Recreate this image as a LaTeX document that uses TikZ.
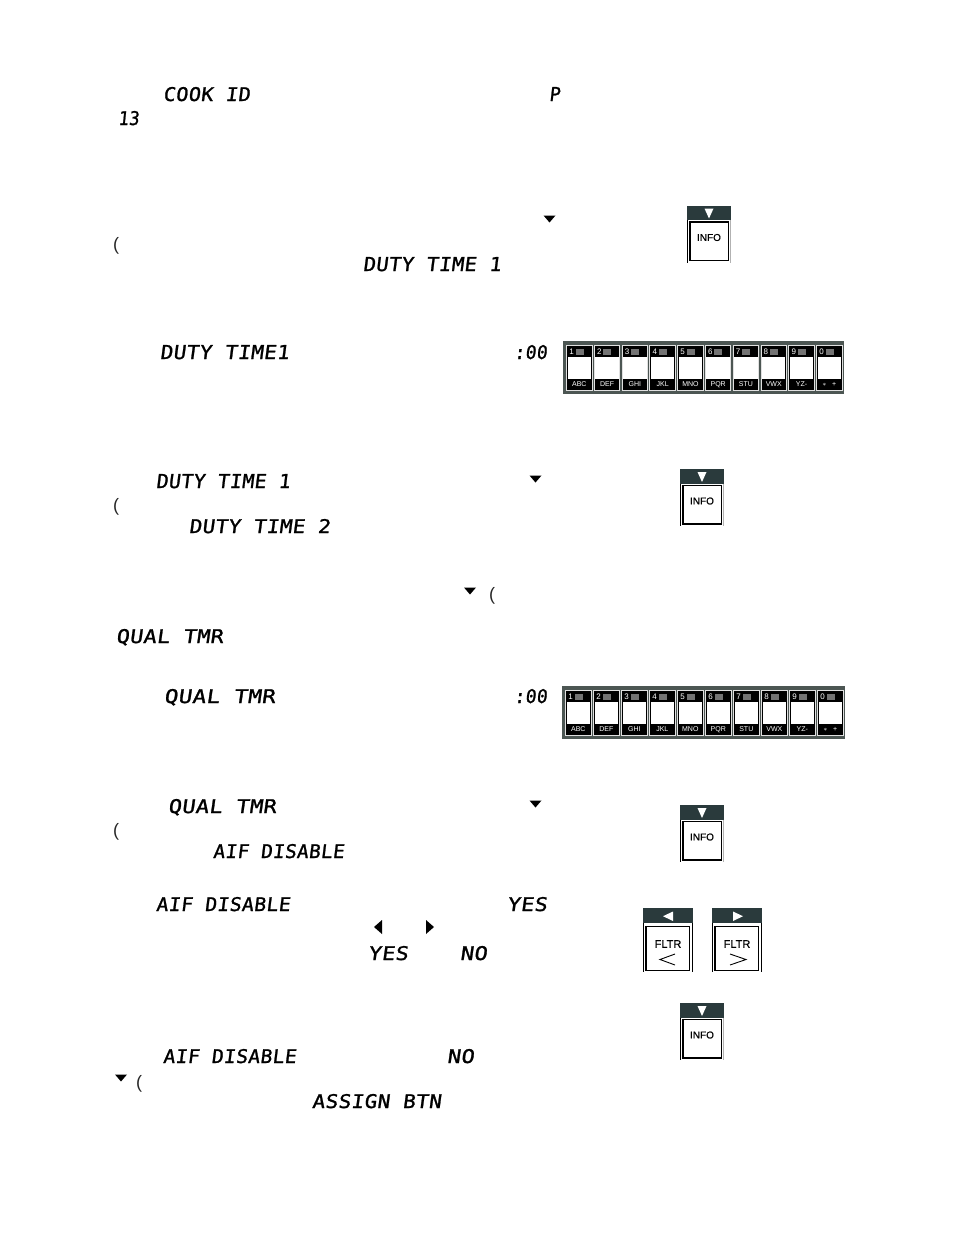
\documentclass[tikz,border=0pt]{standalone}
\usepackage{fontspec}
\usepackage{graphicx}
\setmainfont{Liberation Sans}
\newfontfamily\lcdfont[FakeSlant=0.12,FakeBold=1.2,LetterSpace=2]{DejaVu Sans Mono}
\newfontfamily\btnfont[FakeBold=0.5]{Liberation Sans}
\definecolor{btndark}{HTML}{2A3A3C}
\definecolor{padgray}{HTML}{4C5653}
\tikzset{
  lcdtext/.style={anchor=base west,inner sep=0pt,outer sep=0pt},
  paren/.style={anchor=center,inner sep=0pt,font=\fontsize{18}{18}\selectfont,text=black!85},
  tri/.style={fill=black,draw=none},
  btntop/.style={fill=btndark,draw=none},
  btnmark/.style={fill=white,draw=none},
  keylabel/.style={text=white,inner sep=0pt,font=\fontsize{7}{7}\selectfont},
  keydigit/.style={text=white,inner sep=0pt,font=\fontsize{8}{8}\selectfont}
}
% \lcd{name}{left}{right}{centre y}{text}
\newcommand{\lcd}[5]{%
  \pgfmathsetmacro{\lcdw}{#3-(#2)}%
  \pgfmathsetmacro{\lcdy}{#4+7}%
  \node[lcdtext] (#1) at (#2,\lcdy) {\resizebox{\lcdw pt}{14pt}{\lcdfont #5}};}
\newcommand{\tridown}[2]{\fill[tri] (#1-6,#2-3.5) -- (#1+6,#2-3.5) -- (#1,#2+3.5) -- cycle;}
\newcommand{\trileft}[2]{\fill[tri] (#1+4,#2-7) -- (#1+4,#2+7) -- (#1-4,#2) -- cycle;}
\newcommand{\triright}[2]{\fill[tri] (#1-4,#2-7) -- (#1-4,#2+7) -- (#1+4,#2) -- cycle;}
% \infobtn{name}{left}{top}
\newcommand{\infobtn}[3]{%
  \begin{scope}[shift={(#2,#3)}]
    \fill[btntop] (0,0) rectangle (44,14.5);
    \fill[btnmark] (17.5,3) -- (26.5,3) -- (22,13) -- cycle;
    \draw[black,line width=0.8pt] (0.4,14.5) -- (0.4,57);
    \draw[black!30,line width=0.8pt] (43.6,14.5) -- (43.6,57);
    \draw[black,line width=1.3pt] (3,16.5) rectangle (41.5,55);
    \node[inner sep=0pt,font=\btnfont\fontsize{10}{10}\selectfont] (#1) at (22,32) {INFO};
  \end{scope}}
% \fltrbtn{name}{left}{top}{mark direction}
\newcommand{\fltrbtn}[4]{%
  \begin{scope}[shift={(#2,#3)}]
    \fill[btntop] (0,0) rectangle (49.5,15);
    \ifnum#4=0
      \fill[btnmark] (30,3.5) -- (30,13) -- (20,8.2) -- cycle;
    \else
      \fill[btnmark] (21,3.5) -- (21,13) -- (31,8.2) -- cycle;
    \fi
    \draw[black,line width=0.8pt] (0.4,15) -- (0.4,64);
    \draw[black,line width=0.8pt] (49.1,15) -- (49.1,64);
    \draw[black,line width=1.3pt] (3,18.5) rectangle (46.5,62.5);
    \node[inner sep=0pt,font=\btnfont\fontsize{11}{12}\selectfont] (#1) at (25,36) {FLTR};
    \ifnum#4=0
      \draw[black,line width=0.9pt] (32,46) -- (17,51.5) -- (32,57);
    \else
      \draw[black,line width=0.9pt] (18,46) -- (34,51.5) -- (18,57);
    \fi
  \end{scope}}
% \keypad{prefix}{left}{top}{width}
\newcommand{\keypad}[4]{%
  \begin{scope}[shift={(#2,#3)}]
    \fill[padgray] (0,0) rectangle (#4,52.5);
    \pgfmathsetmacro{\pitch}{(#4-31)/9}
    \foreach \d/\lab [count=\k from 0] in {1/ABC,2/DEF,3/GHI,4/JKL,5/MNO,6/PQR,7/STU,8/VWX,9/YZ-,0/{$\ast$\ \ \ +}} {
      \pgfmathsetmacro{\kx}{3.5+\k*\pitch}
      \begin{scope}[shift={(\kx,4)}]
        \fill[black] (0,0) rectangle (25.5,45);
        \draw[black!12,line width=0.9pt] (0,0) rectangle (25.5,45);
        \fill[white] (1,12) rectangle (24.5,33.5);
        \fill[black!55] (9,4) rectangle (17,9.5);
        \node[keydigit] (#1d\k) at (5,6.4) {\d};
        \node[keylabel] (#1l\k) at (12.8,39.5) {\lab};
      \end{scope}
    }
  \end{scope}}
\begin{document}
\begin{tikzpicture}[x=1pt,y=-1pt]
\useasboundingbox (0,0) rectangle (954,1235);
\fill[white] (0,0) rectangle (954,1235);
% text
\lcd{a1}{163}{250}{94}{COOK ID}
\lcd{a2}{549}{560}{94}{P}
\lcd{a3}{118}{139}{118}{13}
\lcd{a4}{363}{501}{264}{DUTY TIME 1}
\lcd{a5}{160}{289}{352}{DUTY TIME1}
\lcd{a6}{514}{547}{352}{:00}
\lcd{a7}{156}{290}{481}{DUTY TIME 1}
\lcd{a8}{189}{330}{526}{DUTY TIME 2}
\lcd{a9}{116}{223}{636}{QUAL TMR}
\lcd{a10}{164}{275}{696}{QUAL TMR}
\lcd{a11}{514}{547}{696}{:00}
\lcd{a12}{168}{276}{806}{QUAL TMR}
\lcd{a13}{213}{344}{851}{AIF DISABLE}
\lcd{a14}{156}{290}{904}{AIF DISABLE}
\lcd{a15}{507}{547}{904}{YES}
\lcd{a16}{368}{408}{953}{YES}
\lcd{a17}{460}{487}{953}{NO}
\lcd{a18}{163}{296}{1056}{AIF DISABLE}
\lcd{a19}{447}{474}{1056}{NO}
\lcd{a20}{312}{441}{1101}{ASSIGN BTN}
% parentheses
\node[paren] (p1) at (116,246) {(};
\node[paren] (p2) at (116,507) {(};
\node[paren] (p3) at (116,832) {(};
\node[paren] (p4) at (492,596) {(};
\node[paren] (p5) at (139,1084) {(};
% triangle marks
\tridown{549.5}{219}
\tridown{535.5}{479}
\tridown{535.5}{804}
\tridown{470}{591}
\tridown{121}{1078}
\trileft{378}{927}
\triright{430}{927}
% buttons
\infobtn{i1}{687}{205.5}
\infobtn{i2}{680}{469}
\infobtn{i3}{680}{805}
\infobtn{i4}{680}{1003}
\fltrbtn{f1}{643}{908}{0}
\fltrbtn{f2}{712}{908}{1}
% keypads
\keypad{u}{563}{341}{281}
\keypad{v}{562}{686}{283}
\end{tikzpicture}
\end{document}
